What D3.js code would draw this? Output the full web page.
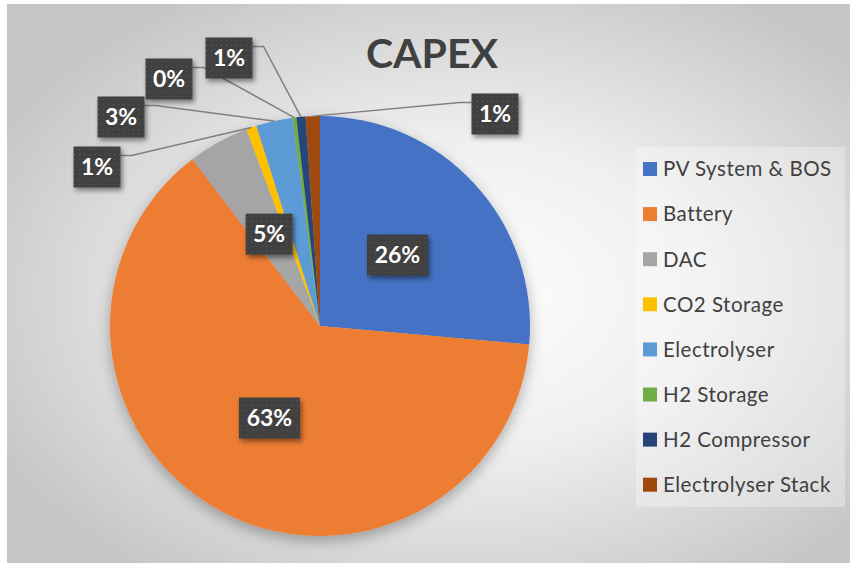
<!DOCTYPE html>
<html>
<head>
<meta charset="utf-8">
<script src="https://cdn.jsdelivr.net/npm/d3@7"></script>
<style>
  body { margin: 0; background: #fff; }
  svg { display: block; font-family: Lato, "Open Sans", sans-serif; }
</style>
</head>
<body>
<div id="chart"></div>
<script>
// Chart data
const categories = ["PV System & BOS", "Battery", "DAC", "CO2 Storage", "Electrolyser",
                    "H2 Storage", "H2 Compressor", "Electrolyser Stack"];
const shares = [26.4, 63.2, 4.7, 0.8, 2.8, 0.3, 0.7, 1.1];
const colors = ["#4472c4", "#ed7d31", "#a5a5a5", "#ffc000", "#5b9bd5",
                "#70ad47", "#264478", "#9e480e"];
// label boxes placed outside the pie (Excel style callouts), null = inside
const outsideLabels = [null, null, null, [97, 167], [121, 117], [169, 79], [229, 58], [495, 114]];

const W = 850, H = 564;
const cx = 320, cy = 326, r = 210;

const svg = d3.select("#chart").append("svg")
    .attr("width", W).attr("height", H);

const defs = svg.append("defs");
const bg = defs.append("radialGradient").attr("id", "bg")
    .attr("cx", "54%").attr("cy", "52%").attr("r", "62%");
bg.append("stop").attr("offset", "0%").attr("stop-color", "#ffffff");
bg.append("stop").attr("offset", "45%").attr("stop-color", "#efefef");
bg.append("stop").attr("offset", "100%").attr("stop-color", "#c6c6c6");

const dots = defs.append("pattern").attr("id", "dots")
    .attr("width", 5).attr("height", 5).attr("patternUnits", "userSpaceOnUse");
dots.append("rect").attr("width", 5).attr("height", 5).attr("fill", "#404040");
dots.append("circle").attr("cx", 2.5).attr("cy", 2.5).attr("r", 0.8).attr("fill", "#555555");

defs.append("filter").attr("id", "boxShadow")
    .attr("x", "-30%").attr("y", "-30%").attr("width", "160%").attr("height", "170%")
  .append("feDropShadow").attr("dx", 2).attr("dy", 3).attr("stdDeviation", 2.5)
    .attr("flood-color", "#000").attr("flood-opacity", 0.45);

defs.append("filter").attr("id", "pieShadow")
    .attr("x", "-20%").attr("y", "-20%").attr("width", "140%").attr("height", "150%")
  .append("feDropShadow").attr("dx", 0).attr("dy", 5).attr("stdDeviation", 7)
    .attr("flood-color", "#000").attr("flood-opacity", 0.3);

// Chart area background
svg.append("rect")
    .attr("x", 7).attr("y", 4).attr("width", W - 7).attr("height", H - 5)
    .attr("fill", "url(#bg)");

// Title
svg.append("text")
    .attr("x", 432).attr("y", 68)
    .attr("text-anchor", "middle")
    .attr("font-size", 41).attr("font-weight", "bold")
    .attr("fill", "#404040")
    .text("CAPEX");

// Pie
const pie = d3.pie().sort(null).value(d => d)(shares);
const arc = d3.arc().innerRadius(0).outerRadius(r);

const g = svg.append("g").attr("transform", `translate(${cx},${cy})`);
g.append("g").attr("filter", "url(#pieShadow)")
  .selectAll("path")
  .data(pie)
  .join("path")
    .attr("d", arc)
    .attr("fill", (d, i) => colors[i]);

const pct = v => Math.round(v) + "%";

// Leader lines for outside labels (drawn under the boxes)
const lineG = svg.append("g");
const labelG = svg.append("g");

pie.forEach((d, i) => {
    const mid = (d.startAngle + d.endAngle) / 2;
    let px, py;
    if (outsideLabels[i]) {
        [px, py] = outsideLabels[i];
    } else {
        const c = arc.centroid(d);
        px = cx + c[0]; py = cy + c[1];
    }
    const lab = labelG.append("g").attr("transform", `translate(${px},${py})`);
    const rect = lab.append("rect").attr("fill", "url(#dots)").attr("filter", "url(#boxShadow)");
    const t = lab.append("text")
        .attr("text-anchor", "middle").attr("dy", "0.36em")
        .attr("font-size", 23).attr("font-weight", "bold")
        .attr("fill", "#ffffff")
        .text(pct(shares[i]));
    const tw = t.node().getComputedTextLength();
    const bw = Math.round(tw + 15), bh = 41;
    rect.attr("x", -bw / 2).attr("y", -bh / 2).attr("width", bw).attr("height", bh);

    if (outsideLabels[i]) {
        const ex = cx + Math.sin(mid) * r, ey = cy - Math.cos(mid) * r;
        const left = px > cx;
        const sx = left ? px - bw / 2 : px + bw / 2;
        const sy = py - bh / 2 + 9;
        const kx = left ? sx - 12 : sx + 11;
        lineG.append("polyline")
            .attr("points", [[sx, sy], [kx, sy], [ex, ey]].map(p => p.join(",")).join(" "))
            .attr("fill", "none").attr("stroke", "#7f7f7f").attr("stroke-width", 1.5);
    }
});

// Legend
const legend = svg.append("g");
legend.append("rect")
    .attr("x", 636).attr("y", 147).attr("width", 209).attr("height", 360)
    .attr("fill", "#ffffff").attr("fill-opacity", 0.3);
const item = legend.selectAll("g.item")
    .data(categories)
    .join("g").attr("class", "item")
    .attr("transform", (d, i) => `translate(643,${169 + i * 45.1})`);
item.append("rect")
    .attr("x", 0).attr("y", -7).attr("width", 14).attr("height", 14)
    .attr("fill", (d, i) => colors[i]);
item.append("text")
    .attr("x", 20).attr("dy", "0.36em")
    .attr("font-size", 20.5).attr("letter-spacing", 0.5).attr("fill", "#404040")
    .text(d => d);
</script>
</body>
</html>
